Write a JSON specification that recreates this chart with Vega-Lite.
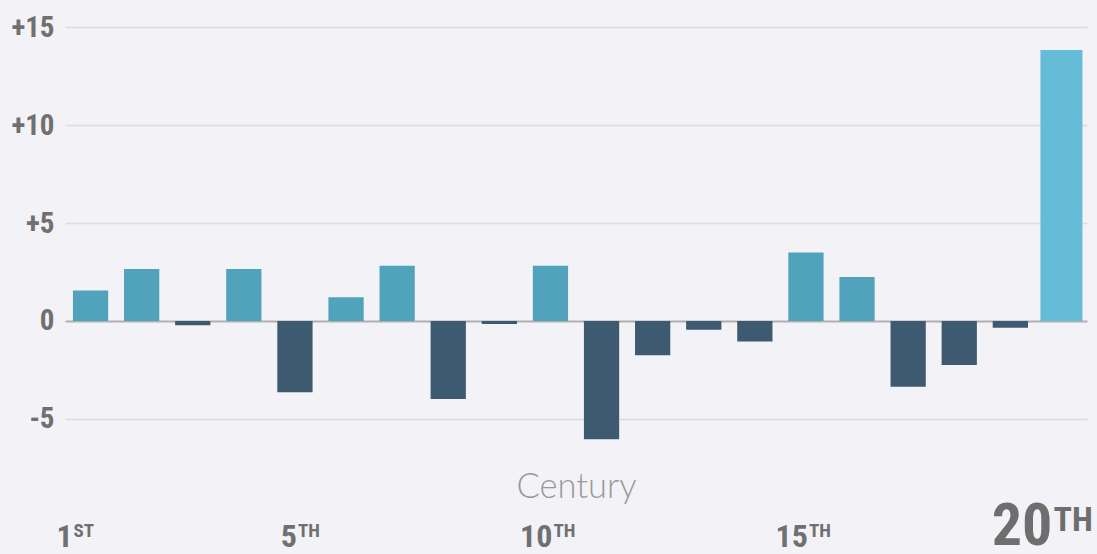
{
  "$schema": "https://vega.github.io/schema/vega-lite/v6.json",
  "width": 1022,
  "height": 554,
  "autosize": "none",
  "padding": {"left": 65, "top": 0, "right": 10, "bottom": 0},
  "background": "#f3f3f7",
  "config": {"view": {"stroke": null}},
  "data": {
    "values": [
      {"century": 1, "change": 1.55, "ord": "ST"},
      {"century": 2, "change": 2.65, "ord": "ND"},
      {"century": 3, "change": -0.22, "ord": "RD"},
      {"century": 4, "change": 2.65, "ord": "TH"},
      {"century": 5, "change": -3.64, "ord": "TH"},
      {"century": 6, "change": 1.21, "ord": "TH"},
      {"century": 7, "change": 2.82, "ord": "TH"},
      {"century": 8, "change": -3.98, "ord": "TH"},
      {"century": 9, "change": -0.15, "ord": "TH"},
      {"century": 10, "change": 2.82, "ord": "TH"},
      {"century": 11, "change": -6.04, "ord": "TH"},
      {"century": 12, "change": -1.75, "ord": "TH"},
      {"century": 13, "change": -0.45, "ord": "TH"},
      {"century": 14, "change": -1.05, "ord": "TH"},
      {"century": 15, "change": 3.5, "ord": "TH"},
      {"century": 16, "change": 2.25, "ord": "TH"},
      {"century": 17, "change": -3.35, "ord": "TH"},
      {"century": 18, "change": -2.25, "ord": "TH"},
      {"century": 19, "change": -0.35, "ord": "TH"},
      {"century": 20, "change": 13.83, "ord": "TH"}
    ]
  },
  "encoding": {
    "x": {
      "field": "century",
      "type": "ordinal",
      "scale": {"paddingInner": 0.31, "paddingOuter": 0.155},
      "axis": {
        "labels": false,
        "ticks": false,
        "domain": false,
        "grid": false,
        "title": "Century",
        "titleFont": "Lato, Open Sans, sans-serif",
        "titleFontWeight": 300,
        "titleFontSize": 34.5,
        "titleColor": "#9a9a9a",
        "titleY": -57,
        "titleBaseline": "alphabetic"
      }
    }
  },
  "layer": [
    {
      "transform": [{"filter": "datum.century < 20"}],
      "mark": {"type": "bar"},
      "encoding": {
        "y": {
          "field": "change",
          "type": "quantitative",
          "scale": {"domain": [-11.89, 16.38], "nice": false, "zero": false},
          "axis": {
            "values": [-5, 0, 5, 10, 15],
            "title": null,
            "domain": false,
            "ticks": false,
            "grid": true,
            "gridColor": {"condition": {"test": "datum.value === 0", "value": "#b0b0b0"}, "value": "#dcdcdf"},
            "gridWidth": {"condition": {"test": "datum.value === 0", "value": 2}, "value": 1.5},
            "labelExpr": "datum.value > 0 ? '+' + datum.value : '' + datum.value",
            "labelFont": "Roboto Condensed, Roboto, sans-serif",
            "labelFontWeight": "bold",
            "labelFontSize": 29,
            "labelColor": "#707070",
            "labelPadding": 11
          }
        },
        "y2": {"datum": 0},
        "color": {
          "condition": {"test": "datum.change < 0", "value": "#3e5a71"},
          "value": "#50a3ba"
        }
      }
    },
    {
      "transform": [{"filter": "datum.century == 20"}],
      "mark": {"type": "bar", "width": 42, "color": "#64bcd6"},
      "encoding": {
        "y": {"field": "change", "type": "quantitative"},
        "y2": {"datum": 0}
      }
    },
    {
      "transform": [{"filter": "datum.century == 5 || datum.century == 10 || datum.century == 15"}],
      "mark": {"type": "text", "align": "right", "baseline": "alphabetic", "fontSize": 32, "font": "Roboto Condensed, Roboto, sans-serif", "fontWeight": "bold", "color": "#707070", "dx": 2},
      "encoding": {
        "y": {"datum": -11.52},
        "text": {"field": "century"}
      }
    },
    {
      "transform": [{"filter": "datum.century == 5 || datum.century == 10 || datum.century == 15"}],
      "mark": {"type": "text", "align": "left", "baseline": "alphabetic", "fontSize": 19, "font": "Roboto Condensed, Roboto, sans-serif", "fontWeight": "bold", "color": "#707070", "dx": 3},
      "encoding": {
        "y": {"datum": -11.0},
        "text": {"field": "ord"}
      }
    },
    {
      "transform": [{"filter": "datum.century == 1"}],
      "mark": {"type": "text", "align": "right", "baseline": "alphabetic", "fontSize": 32, "font": "Roboto Condensed, Roboto, sans-serif", "fontWeight": "bold", "color": "#707070", "dx": -18},
      "encoding": {
        "y": {"datum": -11.52},
        "text": {"field": "century"}
      }
    },
    {
      "transform": [{"filter": "datum.century == 1"}],
      "mark": {"type": "text", "align": "left", "baseline": "alphabetic", "fontSize": 19, "font": "Roboto Condensed, Roboto, sans-serif", "fontWeight": "bold", "color": "#707070", "dx": -17},
      "encoding": {
        "y": {"datum": -11.0},
        "text": {"field": "ord"}
      }
    },
    {
      "transform": [{"filter": "datum.century == 20"}],
      "mark": {"type": "text", "align": "right", "baseline": "alphabetic", "fontSize": 60, "font": "Roboto Condensed, Roboto, sans-serif", "fontWeight": "bold", "color": "#6e6e6e", "dx": -9},
      "encoding": {
        "y": {"datum": -11.45},
        "text": {"field": "century"}
      }
    },
    {
      "transform": [{"filter": "datum.century == 20"}],
      "mark": {"type": "text", "align": "left", "baseline": "alphabetic", "fontSize": 34, "font": "Roboto Condensed, Roboto, sans-serif", "fontWeight": "bold", "color": "#6e6e6e", "dx": -8},
      "encoding": {
        "y": {"datum": -10.7},
        "text": {"field": "ord"}
      }
    }
  ]
}
